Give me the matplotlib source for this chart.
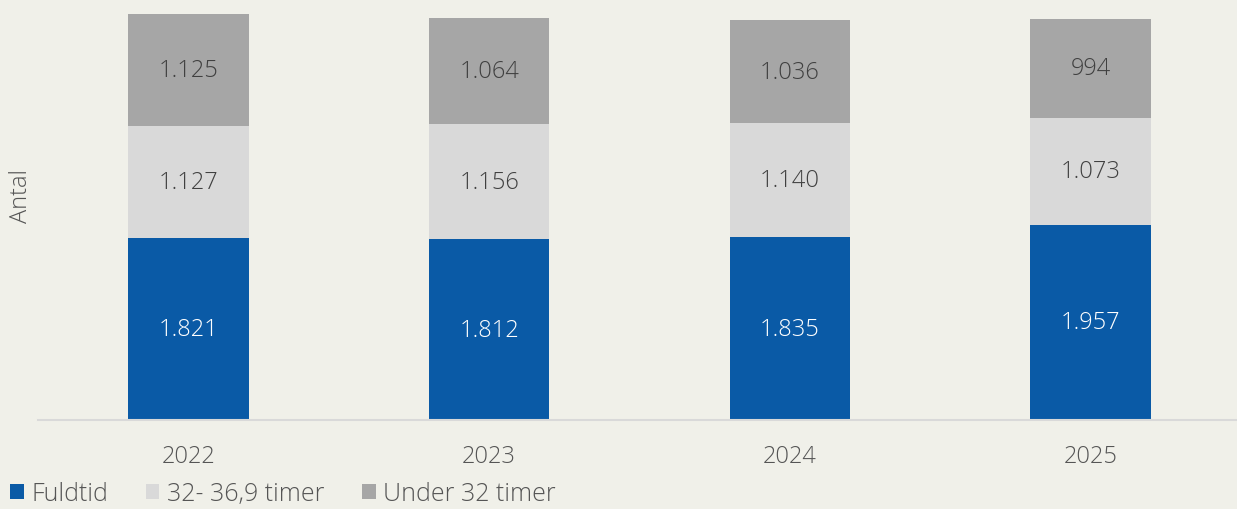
import numpy as np
import matplotlib.pyplot as plt
from matplotlib.patches import Patch

# Data
years = ["2022", "2023", "2024", "2025"]
fuldtid = [1821, 1812, 1835, 1957]
timer_32_369 = [1127, 1156, 1140, 1073]
under_32 = [1125, 1064, 1036, 994]

series_names = ["Fuldtid", "32- 36,9 timer", "Under 32 timer"]
colors = ["#0A5AA6", "#D9D9D9", "#A6A6A6"]
label_colors = ["white", "#404040", "#404040"]

bg = "#F0F0E9"
plt.rcParams['font.family'] = ['Open Sans', 'DejaVu Sans']
fs = 17

fig = plt.figure(figsize=(12.37, 5.10), dpi=100, facecolor=bg)
ax = fig.add_axes([38 / 1237, 89 / 510, 1203 / 1237, 420 / 510])
ax.set_facecolor(bg)

x = np.arange(len(years))
bottom = np.zeros(len(years))
for vals, name, col, lc in zip([fuldtid, timer_32_369, under_32], series_names, colors, label_colors):
    bars = ax.bar(x, vals, width=0.4, bottom=bottom, color=col, label=name, zorder=2)
    for b, v in zip(bars, vals):
        txt = f"{v:,}".replace(",", ".")
        ax.text(b.get_x() + b.get_width() / 2, b.get_y() + b.get_height() / 2, txt,
                ha="center", va="center", color=lc, fontsize=fs, fontweight="light")
    bottom += np.array(vals)

ax.set_xlim(-0.5, 3.5)
ax.set_ylim(0, 4213)
ax.set_xticks(x)
ax.set_xticklabels(years, fontsize=fs, color="#555555", fontweight="light")
ax.tick_params(axis="x", length=0, pad=17)
ax.set_yticks([])
for s in ["top", "right", "left"]:
    ax.spines[s].set_visible(False)
ax.spines["bottom"].set_color("#D9D9D9")
ax.spines["bottom"].set_linewidth(1.5)

fig.text(21 / 1237, 1 - 196 / 510, "Antal", rotation=90, ha="center", va="center",
         fontsize=fs, color="#555555", fontweight="light")

handles = [Patch(facecolor=c, label=n) for c, n in zip(colors, series_names)]
leg = fig.legend(handles=handles, loc="lower left", bbox_to_anchor=(-0.004, -0.024), ncol=3,
                 frameon=False, prop={"size": 18, "weight": "light"}, handlelength=0.55,
                 handleheight=0.55, handletextpad=0.3, columnspacing=1.5, borderaxespad=0.2)
for t in leg.get_texts():
    t.set_color("#555555")

fig.savefig("out.png", dpi=100, facecolor=bg)
